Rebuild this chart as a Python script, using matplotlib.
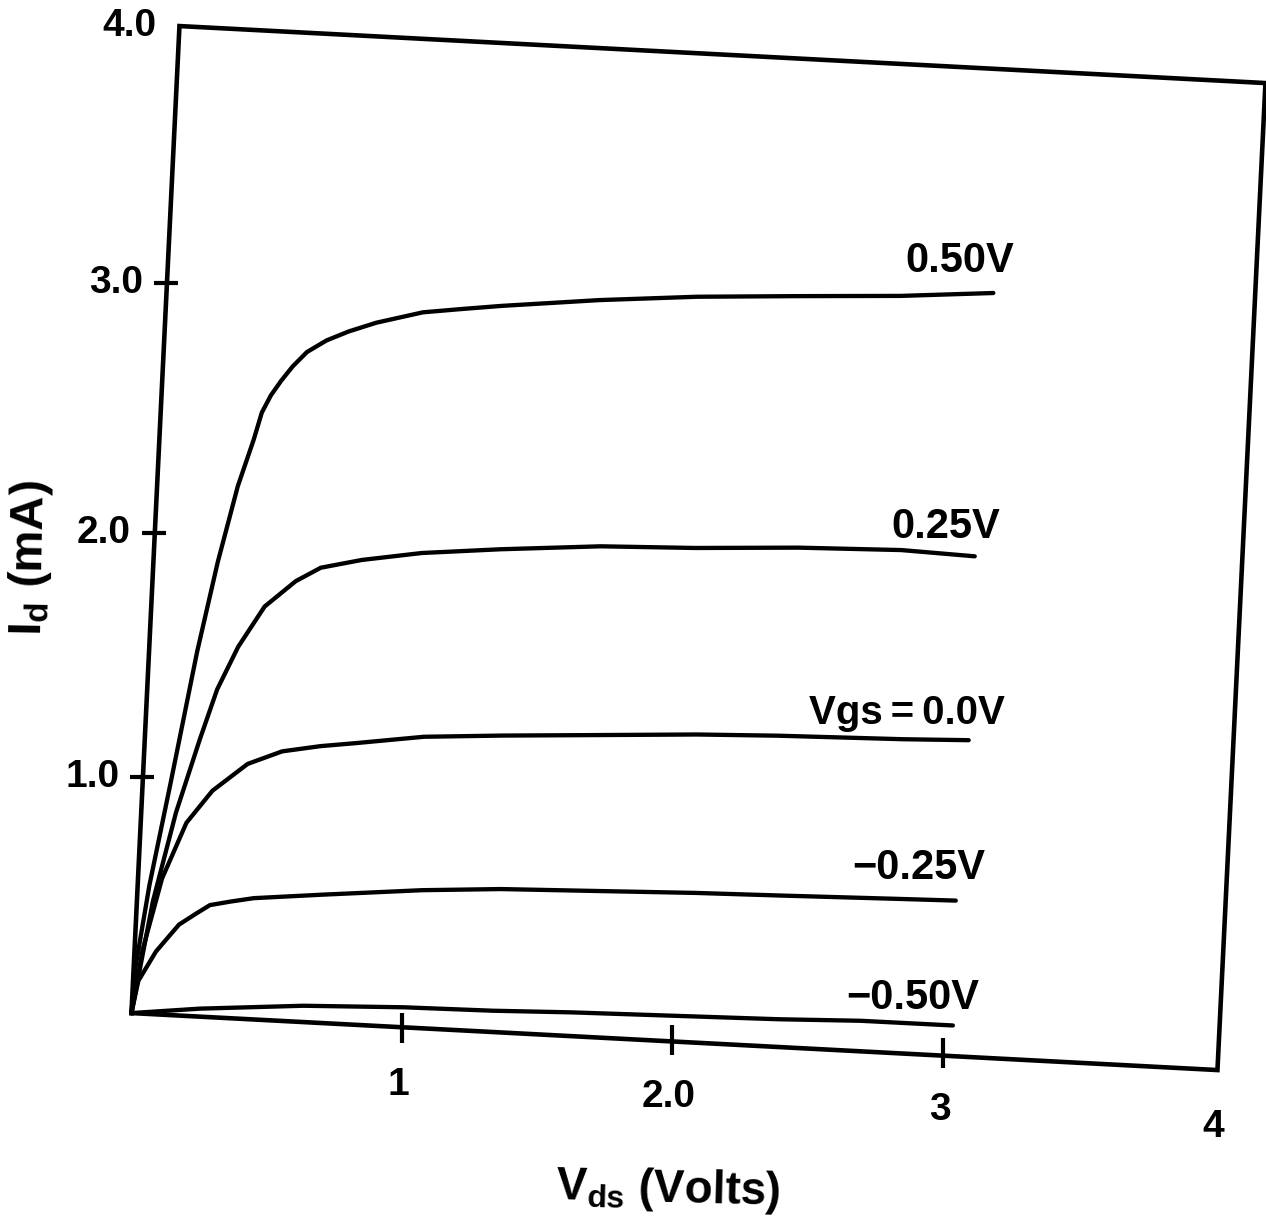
import numpy as np
import matplotlib
matplotlib.use("Agg")
import matplotlib.pyplot as plt
import matplotlib.transforms as mtransforms

# ---------------- data (Vds in volts, Id in mA) ----------------
curve_labels = ["0.50V", "0.25V", "Vgs\u2009=\u20090.0V", "\u22120.25V", "\u22120.50V"]

vds_p050 = [0, 0.007, 0.045, 0.105, 0.18, 0.24, 0.30, 0.35, 0.375, 0.405, 0.44, 0.48,
            0.53, 0.60, 0.68, 0.78, 0.95, 1.09, 1.24, 1.60, 1.96, 2.33, 2.71, 3.05]
id_p050 = [0, 0.195, 0.55, 0.98, 1.53, 1.90, 2.21, 2.40, 2.51, 2.58, 2.64, 2.70,
           2.76, 2.81, 2.85, 2.89, 2.94, 2.96, 2.98, 3.02, 3.05, 3.07, 3.09, 3.12]

vds_p025 = [0, 0.06, 0.13, 0.205, 0.26, 0.33, 0.42, 0.53, 0.62, 0.77, 0.99, 1.28,
            1.65, 2.0, 2.38, 2.76, 3.03]
id_p025 = [0, 0.48, 0.86, 1.17, 1.38, 1.56, 1.73, 1.84, 1.90, 1.94, 1.98, 2.01,
           2.04, 2.05, 2.07, 2.08, 2.07]

vds_000 = [0, 0.03, 0.09, 0.17, 0.26, 0.385, 0.51, 0.65, 0.78, 1.03, 1.32, 1.68,
           2.04, 2.34, 2.80, 3.04]
id_000 = [0, 0.27, 0.58, 0.82, 0.96, 1.08, 1.14, 1.17, 1.19, 1.23, 1.25, 1.27,
          1.29, 1.30, 1.31, 1.32]

vds_m025 = [0, 0.02, 0.08, 0.16, 0.22, 0.27, 0.345, 0.43, 0.68, 1.05, 1.34, 1.70,
            2.06, 2.37, 2.82, 3.02]
id_m025 = [0, 0.14, 0.27, 0.39, 0.44, 0.48, 0.50, 0.52, 0.55, 0.59, 0.61, 0.62,
           0.63, 0.635, 0.645, 0.65]

vds_m050 = [0, 0.25, 0.63, 1.0, 1.33, 1.62, 2.39, 2.69, 3.03]
id_m050 = [0, 0.037, 0.074, 0.089, 0.092, 0.10, 0.11, 0.12, 0.12]

x_ticks = [1, 2, 3, 4]
x_tick_labels = ["1", "2.0", "3", "4"]
y_ticks = [1, 2, 3, 4]
y_tick_labels = ["1.0", "2.0", "3.0", "4.0"]
V_MAX, I_MAX = 4, 4

# label anchor points in data coordinates
label_vds = [2.92, 2.92, 2.81, 2.88, 2.88]
label_id = [3.24, 2.18, 1.42, 0.78, 0.23]

# ---------------- calibration of the (scanned, skewed) axes ----------------
STEPS = [0, 1, 2, 3, 4]
XAX_PX_X = [132, 400, 676, 941, 1218]
XAX_PX_Y = [1013, 1028, 1040, 1053, 1070]
YAX_PX_X = [132, 143, 154, 167, 180]
YAX_PX_Y = [1013, 777, 533, 283, 26]
ORIGIN = (132, 1013)

_cx_x = np.polyfit(STEPS, XAX_PX_X, 3)
_cx_y = np.polyfit(STEPS, XAX_PX_Y, 3)
_cy_x = np.polyfit(STEPS, YAX_PX_X, 3)
_cy_y = np.polyfit(STEPS, YAX_PX_Y, 3)


class ScanTransform(mtransforms.Transform):
    """Maps (Vds, Id) onto the skewed, slightly distorted axes of the scan."""
    input_dims = 2
    output_dims = 2
    is_separable = False
    has_inverse = False

    def transform_non_affine(self, values):
        values = np.asarray(values, dtype=float).reshape(-1, 2)
        v = values[:, 0]
        c = values[:, 1]
        px = np.polyval(_cx_x, v) + np.polyval(_cy_x, c) - ORIGIN[0]
        py = np.polyval(_cx_y, v) + np.polyval(_cy_y, c) - ORIGIN[1]
        return np.column_stack([px, py])


plt.rcParams['font.family'] = ['Liberation Sans', 'DejaVu Sans']
plt.rcParams['font.weight'] = 'bold'
plt.rcParams['mathtext.fontset'] = 'custom'
plt.rcParams['mathtext.rm'] = 'Liberation Sans:bold'
plt.rcParams['mathtext.it'] = 'Liberation Sans:bold'
plt.rcParams['mathtext.bf'] = 'Liberation Sans:bold'

fig = plt.figure(figsize=(12.66, 12.18), dpi=100)
ax = fig.add_axes([0, 0, 1, 1])
ax.set_xlim(0, 1266)
ax.set_ylim(1218, 0)
ax.axis('off')

T = ScanTransform() + ax.transData

# frame
ax.plot([0, V_MAX, V_MAX, 0, 0], [0, 0, I_MAX, I_MAX, 0], transform=T,
        color='black', lw=3.3, solid_joinstyle='miter')

# tick marks
ax.plot(x_ticks[:-1], [0] * (len(x_ticks) - 1), transform=T, ls='none',
        marker='|', ms=21, mew=3.0, color='black')
ax.plot([0] * (len(y_ticks) - 1), y_ticks[:-1], transform=T, ls='none',
        marker='_', ms=17, mew=3.0, color='black')

# tick labels
for v, lab in zip(x_ticks, x_tick_labels):
    ax.annotate(lab, xy=(v, 0), xycoords=T, xytext=(-4, -57),
                textcoords='offset pixels', ha='center', va='center',
                fontsize=28, fontweight='bold')
for c, lab in zip(y_ticks, y_tick_labels):
    ax.annotate(lab, xy=(0, c), xycoords=T, xytext=(-50, 0),
                textcoords='offset pixels', ha='center', va='center',
                fontsize=28, fontweight='bold')

# curves
curves = [(vds_p050, id_p050), (vds_p025, id_p025), (vds_000, id_000),
          (vds_m025, id_m025), (vds_m050, id_m050)]
for (vx, iy) in curves:
    ax.plot(vx, iy, transform=T, color='black', lw=3.1,
            solid_capstyle='round', solid_joinstyle='round')

label_sizes = [30, 30, 29, 30, 30]
for lab, lv, li, fs in zip(curve_labels, label_vds, label_id, label_sizes):
    ax.text(lv, li, lab, transform=T, ha='center', va='center',
            fontsize=fs, fontweight='bold')

# axis titles
ax.text(668, 1190, r"V$_{\mathrm{ds}}$ (Volts)", ha='center', va='center',
        fontsize=33, fontweight='bold', rotation=-1.5)
ax.text(30, 558, r"I$_{\mathrm{d}}$ (mA)", ha='center', va='center',
        fontsize=34, fontweight='bold', rotation=89)

fig.savefig("out.png", dpi=100)
